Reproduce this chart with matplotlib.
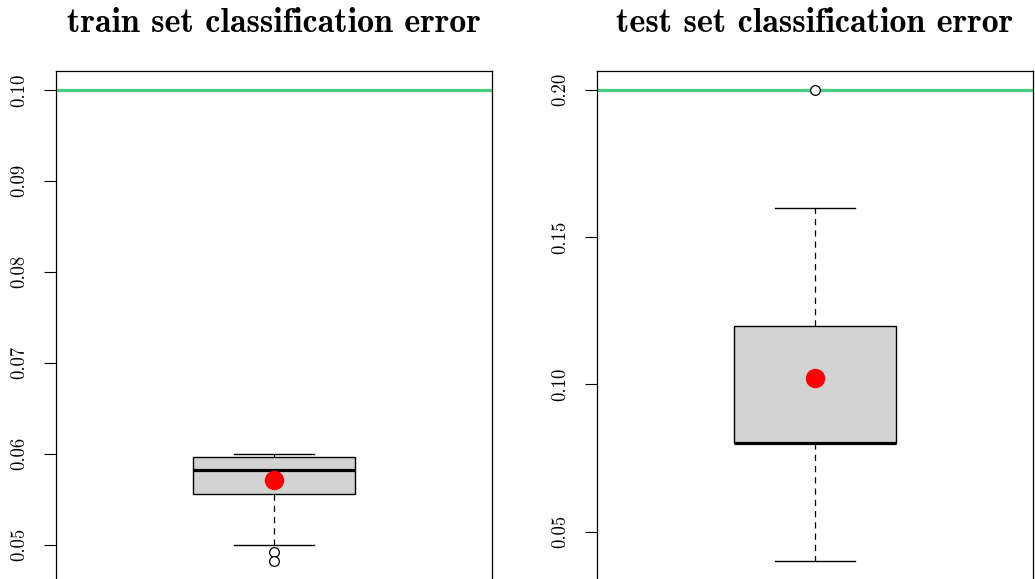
import matplotlib
matplotlib.use("Agg")
import matplotlib.pyplot as plt
from matplotlib.ticker import FormatStrFormatter

# panel titles
titles = ["train set classification error", "test set classification error"]

# box statistics
train_whislo, train_q1, train_med, train_q3, train_whishi = 0.050, 0.0556, 0.0582, 0.0596, 0.060
train_fliers = [0.0492, 0.0482]
train_mean = 0.0571
train_ref = 0.10
train_ticks = [0.05, 0.06, 0.07, 0.08, 0.09, 0.10]

test_whislo, test_q1, test_med, test_q3, test_whishi = 0.04, 0.08, 0.08, 0.12, 0.16
test_fliers = [0.20]
test_mean = 0.1023
test_ref = 0.20
test_ticks = [0.05, 0.10, 0.15, 0.20]

W, H = 1035, 579
fig = plt.figure(figsize=(W / 100, H / 100), dpi=100)

panels = [
    (56, titles[0], dict(whislo=train_whislo, q1=train_q1, med=train_med, q3=train_q3,
                         whishi=train_whishi, fliers=train_fliers), train_mean, train_ref, train_ticks),
    (597, titles[1], dict(whislo=test_whislo, q1=test_q1, med=test_med, q3=test_q3,
                          whishi=test_whishi, fliers=test_fliers), test_mean, test_ref, test_ticks),
]

for left, title, stats, mean, ref, ticks in panels:
    ax = fig.add_axes([left / W, 1 - 580 / H, 436 / W, 509 / H])

    ax.axhline(ref, color="#43CD80", lw=2.3, zorder=1)

    ax.bxp([stats], positions=[1], widths=0.4, patch_artist=True, showfliers=True,
           boxprops=dict(facecolor="#D3D3D3", edgecolor="black", lw=1.0),
           medianprops=dict(color="black", lw=2.3),
           whiskerprops=dict(color="black", lw=0.9, linestyle=(0, (5, 4))),
           capprops=dict(color="black", lw=1.0),
           capwidths=0.2,
           flierprops=dict(marker="o", markersize=7, markerfacecolor="white",
                           markeredgecolor="black", markeredgewidth=0.9),
           zorder=2)
    ax.plot([1], [mean], "o", color="red", markersize=13, zorder=4)

    # R style ranges: 4% padding around the data
    lo = min([stats["whislo"]] + stats["fliers"])
    hi = max([stats["whishi"], ref] + stats["fliers"])
    pad = 0.04 * (hi - lo)
    ax.set_ylim(lo - pad, hi + pad)
    ax.set_xlim(0.46, 1.54)

    ax.set_xticks([])
    ax.set_yticks(ticks)
    ax.yaxis.set_major_formatter(FormatStrFormatter("%.2f"))
    ax.tick_params(axis="y", length=9, width=0.8, pad=11, labelsize=13.5)
    for lab in ax.get_yticklabels():
        lab.set_rotation(90)
        lab.set_va("center")
        lab.set_fontfamily("cmr10")
    for sp in ax.spines.values():
        sp.set_linewidth(0.9)

    ax.set_title(title, fontfamily="cmb10", fontsize=24.5, pad=28)

fig.savefig("out.png", dpi=100)
